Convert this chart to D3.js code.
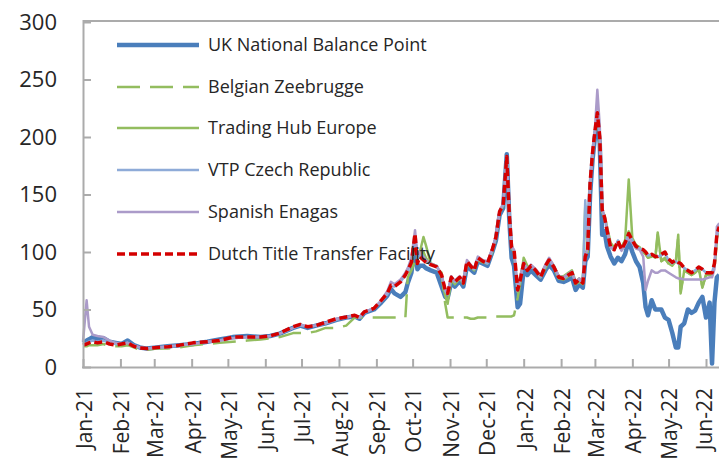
<!DOCTYPE html>
<html>
<head>
<meta charset="utf-8">
<script src="https://cdn.jsdelivr.net/npm/d3@7/dist/d3.min.js"></script>
<style>
  html, body { margin: 0; padding: 0; background: #ffffff; }
  svg { display: block; }
  text { font-family: "Open Sans", "Noto Sans", sans-serif; fill: #262626; }
</style>
</head>
<body>
<svg id="chart" width="719" height="470"></svg>
<script>
// ---------- data (EUR/MWh) ----------
const dates = [
"2021-01-01","2021-01-04","2021-01-06","2021-01-09","2021-01-13","2021-01-18","2021-01-23","2021-01-28",
"2021-02-02","2021-02-07","2021-02-12","2021-02-17","2021-02-23","2021-03-03","2021-03-12","2021-03-22",
"2021-04-02","2021-04-14","2021-04-24","2021-05-05","2021-05-17","2021-05-28","2021-06-05","2021-06-13",
"2021-06-24","2021-06-30","2021-07-06","2021-07-13","2021-07-21","2021-07-30","2021-08-07","2021-08-14",
"2021-08-18","2021-08-22","2021-08-30","2021-09-05","2021-09-10","2021-09-13","2021-09-16","2021-09-21",
"2021-09-25","2021-09-27","2021-09-30","2021-10-03","2021-10-05","2021-10-07","2021-10-10","2021-10-12",
"2021-10-16","2021-10-21","2021-10-25","2021-10-28","2021-10-30","2021-11-02","2021-11-05","2021-11-09",
"2021-11-12","2021-11-15","2021-11-18","2021-11-21","2021-11-24","2021-11-28","2021-12-02","2021-12-06",
"2021-12-09","2021-12-12","2021-12-15","2021-12-18","2021-12-20","2021-12-22","2021-12-24","2021-12-27",
"2021-12-29","2022-01-01","2022-01-04","2022-01-07","2022-01-11","2022-01-15","2022-01-19","2022-01-22",
"2022-01-26","2022-01-30","2022-02-03","2022-02-07","2022-02-10","2022-02-13","2022-02-16","2022-02-19",
"2022-02-21","2022-02-23","2022-02-25","2022-02-27","2022-03-01","2022-03-03","2022-03-05","2022-03-07",
"2022-03-09","2022-03-11","2022-03-14","2022-03-17","2022-03-20","2022-03-23","2022-03-26","2022-03-29",
"2022-04-01","2022-04-04","2022-04-07","2022-04-10","2022-04-12","2022-04-14","2022-04-17","2022-04-20",
"2022-04-22","2022-04-25","2022-04-28","2022-05-01","2022-05-04","2022-05-07","2022-05-09","2022-05-11",
"2022-05-14","2022-05-17","2022-05-20","2022-05-23","2022-05-26","2022-05-29","2022-06-01","2022-06-04",
"2022-06-06","2022-06-08","2022-06-10","2022-06-12"
];

const ukNbp = [
21,23,24,26,24,25,22,21, 20,23,19,17,16,17,18,19, 20,22,24,26,27,26,27,29,
34,36,34,36,38,41,43,44, 42,47,50,56,62,68,64,61, 65,73,82,105,85,88,88,86,
84,82,70,61,60,74,70,75, 70,88,85,82,92,90,88,100, 110,132,138,185,130,95,88,52,
55,85,80,84,80,76,84,89, 84,75,74,76,78,67,72,69, 92,96,150,180,200,212,195,115,
118,105,96,90,95,92,98,110, 100,92,87,73,52,45,58,50, 50,50,43,41,30,17,17,35,
38,50,47,49,56,61,43,56, 3,56,78,80
];

const belgianZee = [
18,18,19,19,19,20,18,18, 18,19,17,15,15,16,16,17, 19,20,21,22,23,24,25,26,
29.5,29.5,29.5,31,34,34,36,43, 43,43,43,43,43,43,43,43, 43,78,84,92,90,98,100,95,
88,86,82,55,43,43,43,43, 43,43,42,42,43,43,43,43, 44,44,44,44,44,44,45,60,
72,95,88,86,82,78,86,92, 86,77,76,79,80,72,74,72, 100,100,158,184,204,218,199,135,
129,118,104,102,108,104,110,118, 112,106,104,100,98,95,96,94, 115,92,95,90,88,90,113,66,
84,82,80,82,85,70,80,80, 80,86,110,118
];

const tradingHub = [
null,null,null,null,null,null,null,null, null,null,null,null,null,null,null,null, null,null,null,null,null,null,null,null,
null,null,null,null,null,null,null,null, null,null,null,null,null,null,null,null, null,null,88,110,95,100,113,106,
90,88,78,62,55,76,72,77, 72,90,87,84,93,91,90,100, 112,134,140,181,133,103,100,65,
78,92,86,88,84,79,88,94, 88,79,79,82,84,74,77,73, 140,104,160,185,205,220,200,135,
132,122,108,104,108,104,110,163, 112,106,104,100,98,95,97,95, 117,92,94,90,88,92,115,64,
84,82,80,82,86,69,80,81, 80,88,112,120
];

const vtpCzech = [
20,21,22,23,22,23,21,20, 20,21,18,17,16,17,17,19, 20,22,23,25,26,26,27,29,
34,36,35,36,38,41,43,45, 43,47,51,57,63,70,70,74, 80,84,92,113,95,98,96,92,
89,87,80,66,63,78,74,78, 73,91,88,85,94,92,90,101, 113,135,141,182,135,104,101,66,
76,90,84,88,84,78,88,93, 87,78,77,80,82,73,76,73, 145,105,160,186,205,221,200,136,
130,119,104,102,110,102,108,115, 110,104,103,101,100,97,98,96, 96,97,99,93,90,92,90,89,
86,84,82,84,87,85,82,82, 82,90,114,122
];

const spanishEnagas = [
22,58,35,28,27,26,23,21, 20,21,19,17,16,17,18,19, 20,22,23,25,26,26,27,29,
34,37,35,36,38,42,43,45, 43,48,51,58,66,74,72,76, 82,86,95,119,98,100,95,93,
90,88,80,68,65,79,75,79, 74,93,89,86,96,93,92,103, 114,136,142,183,134,105,102,68,
78,91,85,89,85,80,89,95, 88,79,78,81,83,74,77,74, 97,103,160,187,207,241,210,138,
131,120,105,102,108,101,106,112, 108,103,102,96,67,75,84,82, 82,84,84,82,80,78,77,77,
76,76,76,76,76,76,77,78, 78,85,122,125
];

const dutchTtf = [
19,20,21,22,21,22,20,19, 20,21,18,16.5,16,17,17.5,19, 21,22,23,26,26,26,27,29.5,
35,37,35,36,39,42,43.5,45, 43,48,51,58,64,71,70,74, 80,84,91,116,90,96,93,91,
89,87,80,67,64,78,74,78, 73,92,88,84,95,92,90,102, 113,135,141,183,134,104,102,67,
75,90,84,88,84,78,88,93, 87,78,77,80,82,73,76,73, 96,102,160,186,205,221,200,137,
130,119,104,102,110,102,108,116, 110,105,103,102,100,97,98,96, 96,98,100,94,91,93,91,90,
86,84,82,84,87,85,82,82, 82,90,115,122
];

const seriesNames = [
  "UK National Balance Point",
  "Belgian Zeebrugge",
  "Trading Hub Europe",
  "VTP Czech Republic",
  "Spanish Enagas",
  "Dutch Title Transfer Facility"
];
const seriesValues = [ukNbp, belgianZee, tradingHub, vtpCzech, spanishEnagas, dutchTtf];
const seriesColors = ["#4a7ebb", "#93bd5f", "#93bd5f", "#8eabd8", "#ab9bc9", "#d40000"];
const seriesWidths = [4.5, 2.5, 2.5, 2.5, 2.5, 3.5];
const seriesDash = [null, "23,10", null, null, null, "8,4"];

const yTicks = [0, 50, 100, 150, 200, 250, 300];

// ---------- chart ----------
const W = 719;
const parse = d3.timeParse("%Y-%m-%d");
const dateObjs = dates.map(parse);
const svg = d3.select("#chart");

const x = d3.scaleTime()
  .domain([parse("2021-01-01"), parse("2022-06-01")])
  .range([83, 706]);
const y = d3.scaleLinear().domain([0, 300]).range([367, 22]);

const axisColor = "#ababab";

// plot-area top border
svg.append("line")
  .attr("x1", 83).attr("x2", W).attr("y1", y(300) - 1).attr("y2", y(300) - 1)
  .attr("stroke", axisColor).attr("stroke-width", 2);

// lines
const line = d3.line()
  .defined(d => d[1] != null)
  .x(d => x(d[0]))
  .y(d => y(d[1]));

seriesValues.forEach((vals, i) => {
  const pts = dateObjs.map((d, j) => [d, vals[j]]);
  svg.append("path")
    .datum(pts)
    .attr("d", line)
    .attr("fill", "none")
    .attr("stroke", seriesColors[i])
    .attr("stroke-width", seriesWidths[i])
    .attr("stroke-linejoin", "round")
    .attr("stroke-dasharray", seriesDash[i]);
});

// y axis
const yAxis = svg.append("g")
  .attr("transform", "translate(83,0)")
  .call(d3.axisLeft(y).tickValues(yTicks).tickSizeInner(-8).tickSizeOuter(0).tickPadding(26));
yAxis.select(".domain").attr("stroke", axisColor).attr("stroke-width", 2)
  .attr("d", `M0.5,${y(300) - 2}V${y(0) + 1}`);
yAxis.selectAll(".tick line").attr("stroke", axisColor).attr("stroke-width", 2);
yAxis.selectAll(".tick text")
  .style("font-family", "'Open Sans', sans-serif")
  .style("font-size", "22px").attr("fill", "#262626");

// x axis
const months = d3.timeMonth.range(parse("2021-01-01"), parse("2022-06-02"));
const fmt = d3.timeFormat("%b-%y");
const xAxis = svg.append("g")
  .attr("transform", `translate(0,${y(0)})`)
  .call(d3.axisBottom(x).tickValues(months).tickFormat(fmt).tickSizeInner(-8).tickSizeOuter(0));
xAxis.select(".domain").attr("stroke", axisColor).attr("stroke-width", 2)
  .attr("d", `M82,0.5H${W}`);
xAxis.selectAll(".tick line").attr("stroke", axisColor).attr("stroke-width", 2);
xAxis.selectAll(".tick text")
  .attr("x", 0).attr("y", 0).attr("dy", "0.35em")
  .attr("text-anchor", "end")
  .attr("transform", d => `translate(${Math.min(1, W - 15 - x(d))},21) rotate(-90)`)
  .style("font-family", "'Open Sans', sans-serif")
  .style("font-size", "21px").attr("fill", "#262626");

// legend
const legendY = [45, 87, 128, 170, 212, 254];
const legend = svg.append("g");
seriesNames.forEach((name, i) => {
  const g = legend.append("g").attr("transform", `translate(0,${legendY[i]})`);
  g.append("line")
    .attr("x1", 117).attr("x2", 199).attr("y1", 0).attr("y2", 0)
    .attr("stroke", seriesColors[i])
    .attr("stroke-width", seriesWidths[i])
    .attr("stroke-dasharray", seriesDash[i]);
  g.append("text")
    .attr("x", 208).attr("y", 0).attr("dy", "0.35em")
    .style("font-size", "18px")
    .text(name);
});
</script>
</body>
</html>
